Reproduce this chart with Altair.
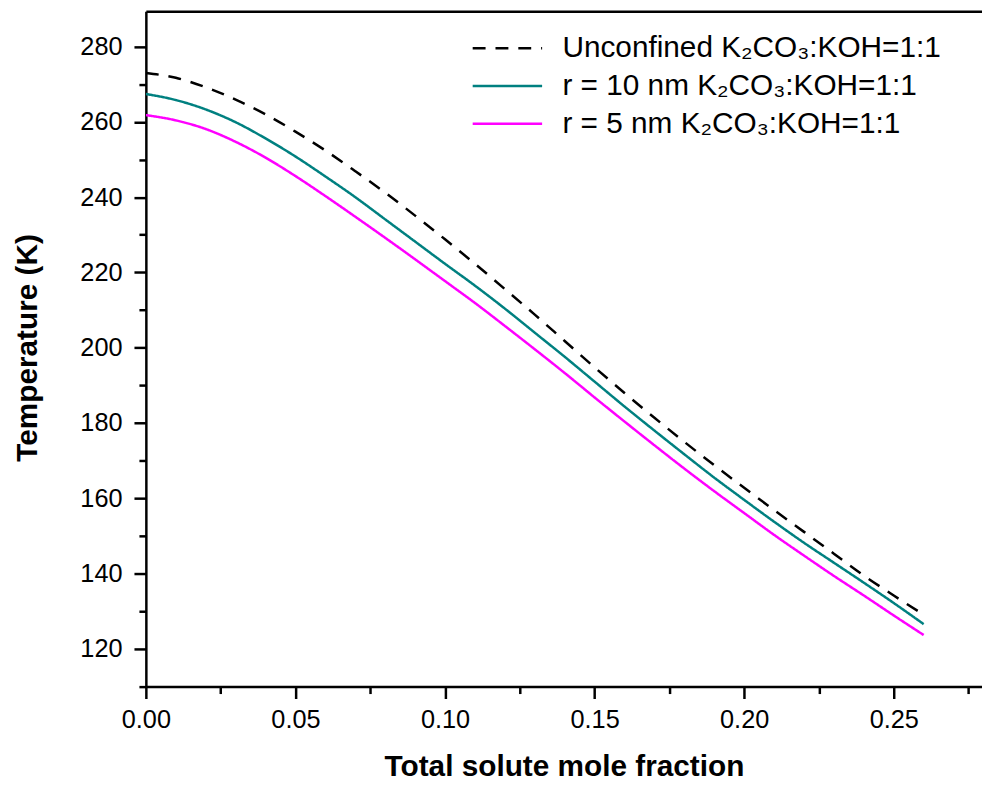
import altair as alt
import pandas as pd

# Total solute mole fraction
x_frac = [0.00, 0.01, 0.02, 0.03, 0.04, 0.05, 0.06, 0.07, 0.08, 0.09,
          0.10, 0.11, 0.12, 0.13, 0.14, 0.15, 0.16, 0.17, 0.18, 0.19,
          0.20, 0.21, 0.22, 0.23, 0.24, 0.25, 0.26]

# Temperature (K)
t_unconfined = [273.0, 271.7, 269.2, 265.9, 262.0, 257.4, 252.4, 246.9, 241.2, 235.1,
                228.8, 222.3, 215.6, 208.8, 201.8, 194.8, 188.0, 181.4, 175.0, 168.8,
                162.8, 156.9, 151.1, 145.3, 139.5, 134.2, 129.1]
t_r10 = [267.4, 265.8, 263.3, 259.9, 255.6, 250.8, 245.5, 240.0, 234.1, 228.2,
         222.3, 216.5, 210.4, 204.0, 197.6, 191.0, 184.4, 178.0, 171.7, 165.5,
         159.6, 153.8, 148.2, 142.9, 137.6, 132.2, 126.6]
t_r5 = [261.8, 260.4, 258.1, 254.7, 250.5, 245.6, 240.3, 234.8, 229.2, 223.5,
        217.7, 211.9, 205.8, 199.6, 193.3, 186.8, 180.4, 174.1, 167.9, 161.9,
        156.1, 150.3, 144.8, 139.4, 134.2, 128.9, 123.7]

series_names = ["Unconfined K\u2082CO\u2083:KOH=1:1",
                "r = 10 nm K\u2082CO\u2083:KOH=1:1",
                "r = 5 nm K\u2082CO\u2083:KOH=1:1"]
series_colors = ["#000000", "#008080", "#FF00FF"]
series_dashes = [[13, 10], [1, 0], [1, 0]]

y_tick_values = [110, 120, 130, 140, 150, 160, 170, 180, 190, 200, 210,
                 220, 230, 240, 250, 260, 270, 280]
x_tick_values = [0.0, 0.025, 0.05, 0.075, 0.1, 0.125, 0.15, 0.175, 0.2,
                 0.225, 0.25, 0.275]

rows = []
for name, vals in zip(series_names, [t_unconfined, t_r10, t_r5]):
    for xv, tv in zip(x_frac, vals):
        rows.append({"x": xv, "T": tv, "series": name})
df = pd.DataFrame(rows)

FONT = "Liberation Sans"

legend = alt.Legend(
    orient="none", legendX=328, legendY=23, title=None,
    symbolType="stroke", symbolSize=4900, symbolStrokeWidth=2.5,
    labelFontSize=30, labelFont=FONT, labelColor="black", labelLimit=700,
    labelOffset=19, rowPadding=7, clipHeight=29, padding=0,
)

x_axis = alt.Axis(
    values=x_tick_values,
    labelExpr="round(datum.value*1000) % 50 === 0 ? format(datum.value, '.2f') : ''",
    tickSize={"condition": {"test": "round(datum.value*1000) % 50 === 0", "value": 12}, "value": 7},
    tickWidth=2.5, tickColor="black", domainWidth=2.5, domainColor="black",
    labelFont=FONT, labelFontSize=25.5, labelColor="black", labelPadding=9,
    labelFlush=False, labelOverlap=False, grid=False,
    titleFont=FONT, titleFontSize=30, titleFontWeight="bold", titleColor="black",
    titleBaseline="alphabetic", titleY=90,
)
y_axis = alt.Axis(
    values=y_tick_values,
    labelExpr="datum.value % 20 === 0 ? datum.label : ''",
    tickSize={"condition": {"test": "datum.value % 20 === 0", "value": 12}, "value": 7},
    tickWidth=2.5, tickColor="black", domainWidth=2.5, domainColor="black",
    labelFont=FONT, labelFontSize=25.5, labelColor="black", labelPadding=12,
    labelFlush=False, labelOverlap=False, grid=False, format="d",
    titleFont=FONT, titleFontSize=30, titleFontWeight="bold", titleColor="black",
    titleBaseline="alphabetic", titleX=-110, titleY=339, titleAngle=-90, titleAlign="center",
)

x_scale = alt.Scale(domain=[0, 0.2795], nice=False, zero=False)
y_scale = alt.Scale(domain=[110, 289.4], nice=False, zero=False)

lines = alt.Chart(df).mark_line(strokeWidth=2.5, clip=True, interpolate="monotone").encode(
    x=alt.X("x:Q", scale=x_scale, axis=x_axis, title="Total solute mole fraction"),
    y=alt.Y("T:Q", scale=y_scale, axis=y_axis, title="Temperature (K)"),
    color=alt.Color("series:N", scale=alt.Scale(domain=series_names, range=series_colors), legend=legend),
    strokeDash=alt.StrokeDash("series:N", scale=alt.Scale(domain=series_names, range=series_dashes), legend=legend),
)

top_frame = alt.Chart(df).mark_line(opacity=0).encode(
    x=alt.X("x:Q", scale=x_scale,
            axis=alt.Axis(orient="top", labels=False, ticks=False, title=None,
                          domainWidth=2.5, domainColor="black", grid=False)),
    y=alt.Y("T:Q", scale=y_scale),
    detail="series:N",
)

chart = alt.layer(lines, top_frame).resolve_axis(x="independent").properties(
    width=843, height=681,
    autosize=alt.AutoSizeParams(type="none"),
    padding={"left": 139, "top": 0, "right": 0, "bottom": 96},
).configure_view(stroke=None).configure(background="white")

chart.save("out.html", embed_options={"renderer": "svg", "actions": False})
